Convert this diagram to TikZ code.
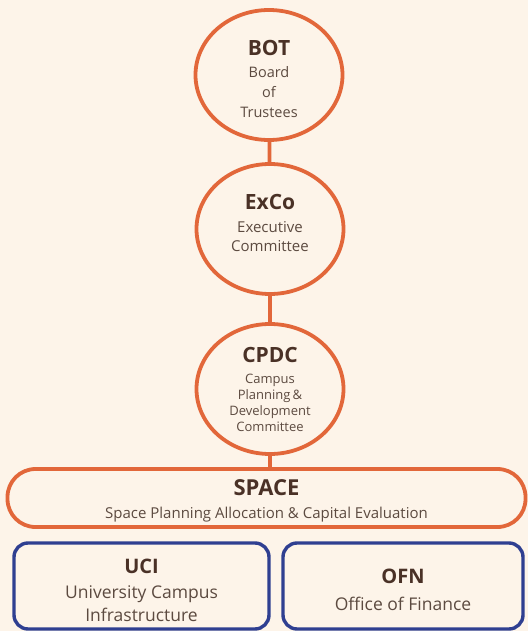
\documentclass[tikz,border=0pt]{standalone}
\usepackage{fontspec}
\setmainfont{Open Sans}
\usetikzlibrary{shapes.geometric}

\definecolor{cream}{HTML}{FDF4E9}
\definecolor{rust}{HTML}{E2673A}
\definecolor{navy}{HTML}{2F3F91}
\definecolor{ink}{HTML}{4A3126}
\definecolor{soft}{HTML}{5C4A40}

\newcommand{\ttl}[2][21]{{\fontsize{#1}{#1}\selectfont\bfseries\color{ink}#2}}

\tikzset{
  unit/.style={ellipse, draw=rust, line width=3.8pt, fill=cream,
    minimum width=147pt, minimum height=130pt, inner sep=0pt},
  band/.style={rectangle, rounded corners=28pt, draw=rust, line width=3.8pt,
    minimum width=518pt, minimum height=58pt, inner sep=0pt},
  office/.style={rectangle, rounded corners=14pt, draw=navy, line width=3.4pt,
    minimum height=86pt, inner sep=0pt},
  tag/.style={align=center, text=soft, inner sep=0pt},
  link/.style={draw=rust, line width=3.8pt}
}

\begin{document}
\begin{tikzpicture}[x=1pt, y=-1pt]
\fill[cream] (0,0) rectangle (528,631);
\useasboundingbox (0,0) rectangle (528,631);

% governance chain
\node[unit] (bot) at (269,75) {};
\node[unit] (exco) at (270,229) {};
\node[unit] (cpdc) at (270,389) {};
\node[tag, font=\fontsize{14.5}{20}\selectfont] (bot-t) at ([yshift=-4pt]bot.center)
  {\ttl{BOT}\\[2pt]Board\\of\\Trustees};
\node[tag, font=\fontsize{15}{19.5}\selectfont] (exco-t) at ([yshift=6pt]exco.center)
  {\ttl{ExCo}\\[3pt]Executive\\Committee};
\node[tag, font=\fontsize{13}{16}\selectfont] (cpdc-t) at (cpdc.center)
  {\ttl{CPDC}\\[5pt]Campus\\Planning\,\&\\Development\\Committee};

% space committee
\node[band] (space) at (266.5,498) {};
\node[tag, font=\fontsize{15}{18}\selectfont] (space-t) at ([yshift=-3pt]space.center)
  {\ttl[22]{SPACE}\\[5pt]Space Planning Allocation \& Capital Evaluation};

% offices
\node[office, minimum width=255pt] (uci) at (141.5,586) {};
\node[office, minimum width=240pt] (ofn) at (403,586) {};
\node[tag, font=\fontsize{17.5}{23}\selectfont] (uci-t) at ([yshift=-4pt]uci.center)
  {\ttl[20]{UCI}\\[2pt]University Campus\\Infrastructure};
\node[tag, font=\fontsize{17.5}{23}\selectfont] (ofn-t) at ([yshift=-4pt]ofn.center)
  {\ttl[20]{OFN}\\[4pt]Office of Finance};

\draw[link] (bot) -- (exco);
\draw[link] (exco) -- (cpdc);
\draw[link] (cpdc) -- (cpdc |- space.north);
\end{tikzpicture}
\end{document}
